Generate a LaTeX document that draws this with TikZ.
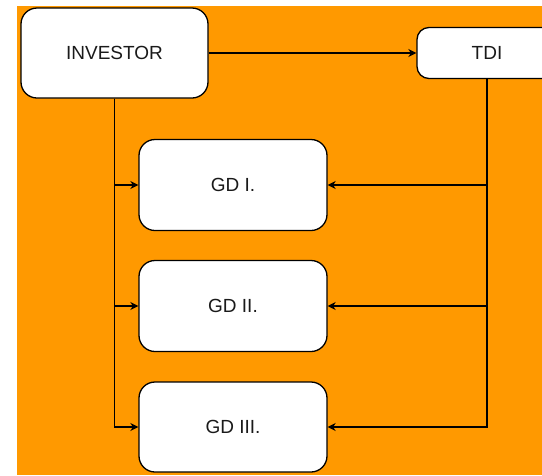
\documentclass[tikz,border=0pt]{standalone}
\usepackage{fontspec}
\setmainfont{Liberation Sans}
\usetikzlibrary{arrows.meta}
\definecolor{bgorange}{HTML}{FF9900}
\definecolor{ink}{HTML}{1A1A1A}
\tikzset{
  box/.style={draw=black, fill=white, line width=1.3pt, rounded corners=16pt,
    text=ink, font=\fontsize{19}{22}\selectfont, inner sep=0pt},
  link/.style={draw=black, line width=1.3pt,
    -{Stealth[length=8pt,width=8pt,inset=2.5pt]}},
}
\begin{document}
\begin{tikzpicture}[x=1pt,y=-1pt]
  \useasboundingbox (0,0) rectangle (542,475);
  \clip (0,0) rectangle (542,475);
  \fill[bgorange] (17,5.5) rectangle (542,475);

  \node[box, minimum width=187pt, minimum height=90pt] (inv) at (114.5,53) {INVESTOR};
  \node[box, rounded corners=12pt, minimum width=140pt, minimum height=51pt] (tdi) at (487,53) {TDI};
  \node[box, minimum width=188pt, minimum height=91pt] (g1) at (233,185) {GD I.};
  \node[box, minimum width=188pt, minimum height=91pt] (g2) at (233,306) {GD II.};
  \node[box, minimum width=188pt, minimum height=90pt] (g3) at (233,427) {GD III.};

  \draw[link] (inv.east) -- (tdi.west);
  \draw[link] (inv.south) |- (g1.west);
  \draw[link] (inv.south) |- (g2.west);
  \draw[link] (inv.south) |- (g3.west);
  \draw[link] (tdi.south) |- (g1.east);
  \draw[link] (tdi.south) |- (g2.east);
  \draw[link] (tdi.south) |- (g3.east);
\end{tikzpicture}
\end{document}
